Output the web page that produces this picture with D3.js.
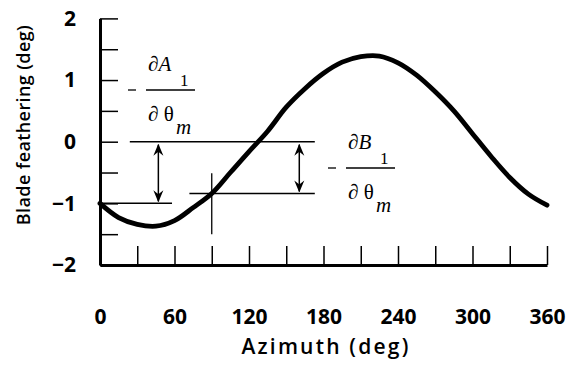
<!DOCTYPE html>
<html>
<head>
<meta charset="utf-8">
<script src="https://cdn.jsdelivr.net/npm/d3@7"></script>
<style>
  body { margin: 0; background: #fff; }
  svg { display: block; }
</style>
</head>
<body>
<div id="container"></div>
<script>
/* CONSTANTS AND GLOBALS */
const width = 570,
    height = 379;

// blade feathering curve (azimuth deg, feathering deg)
const azimuth = [0, 15, 30, 45, 60, 75, 90, 105, 120, 135, 150, 165, 180,
    195, 210, 225, 240, 255, 270, 285, 300, 315, 330, 345, 360];
const feathering = [-1.00, -1.23, -1.34, -1.37, -1.28, -1.07, -0.84, -0.50, -0.16, 0.17, 0.56, 0.86, 1.11,
    1.29, 1.38, 1.39, 1.28, 1.08, 0.81, 0.50, 0.13, -0.24, -0.58, -0.85, -1.03];

const xTicks = [0, 30, 60, 90, 120, 150, 180, 210, 240, 270, 300, 330, 360];
const xLabels = [0, 60, 120, 180, 240, 300, 360];
const yTicks = [-2, -1.5, -1, -0.5, 0, 0.5, 1, 1.5, 2];
const yLabels = [-2, -1, 0, 1, 2];

// construction lines on the plot (data units)
const hLines = [
    { y: 0, from: 24, to: 173 },
    { y: -1.0, from: 0, to: 58 },
    { y: -0.84, from: 72, to: 173 }
];
const vLine = { x: 90, from: -0.51, to: -1.5 };
const arrows = [
    { x: 47, from: 0, to: -1.0 },
    { x: 160.5, from: 0, to: -0.84 }
];

const svg = d3.select("#container")
    .append("svg")
    .attr("width", width)
    .attr("height", height)
    .style("background-color", "white");

// SCALES
const xScale = d3.scaleLinear().domain([0, 360]).range([100, 547]);
const yScale = d3.scaleLinear().domain([-2, 2]).range([265, 18.4]);

const sans = "'Open Sans', 'Noto Sans', sans-serif";
const serif = "'Liberation Serif', 'DejaVu Serif', serif";

// AXES (ticks point inward, labels on separate axes)
const xTickAxis = svg.append("g")
    .attr("transform", "translate(0," + yScale(-2) + ")")
    .call(d3.axisBottom(xScale).tickValues(xTicks).tickSizeInner(-19).tickSizeOuter(0).tickFormat(""));
xTickAxis.select(".domain").attr("stroke-width", 3);
xTickAxis.selectAll(".tick line").attr("stroke-width", 1.5);

const yTickAxis = svg.append("g")
    .attr("transform", "translate(" + xScale(0) + ",0)")
    .call(d3.axisLeft(yScale).tickValues(yTicks).tickSizeInner(-18).tickSizeOuter(0).tickFormat(""));
yTickAxis.select(".domain").attr("stroke-width", 3);
yTickAxis.selectAll(".tick line").attr("stroke-width", 1.5);

const xLabelAxis = svg.append("g")
    .attr("transform", "translate(0," + yScale(-2) + ")")
    .call(d3.axisBottom(xScale).tickValues(xLabels).tickSize(0).tickPadding(44));
xLabelAxis.select(".domain").remove();
xLabelAxis.selectAll("text")
    .style("font-family", sans)
    .style("font-size", "21px")
    .style("font-weight", "bold")
    .attr("fill", "black");

const yLabelAxis = svg.append("g")
    .attr("transform", "translate(" + xScale(0) + ",0)")
    .call(d3.axisLeft(yScale).tickValues(yLabels).tickSize(0).tickPadding(24)
        .tickFormat(d => d < 0 ? "\u2212" + Math.abs(d) : d));
yLabelAxis.select(".domain").remove();
yLabelAxis.selectAll("text")
    .style("font-family", sans)
    .style("font-size", "21px")
    .style("font-weight", "bold")
    .attr("fill", "black");

// AXIS TITLES
svg.append("text")
    .attr("x", 326)
    .attr("y", 354)
    .attr("text-anchor", "middle")
    .style("font-family", sans)
    .style("font-size", "21px")
    .style("font-weight", "600")
    .style("letter-spacing", "2.2px")
    .text("Azimuth (deg)");

svg.append("text")
    .attr("transform", "translate(30,125) rotate(-90)")
    .attr("text-anchor", "middle")
    .style("font-family", sans)
    .style("font-size", "18px")
    .style("font-weight", "600")
    .style("letter-spacing", "0.4px")
    .text("Blade feathering (deg)");

// CONSTRUCTION LINES
svg.selectAll(".hline")
    .data(hLines)
    .join("line")
    .attr("class", "hline")
    .attr("x1", d => xScale(d.from))
    .attr("x2", d => xScale(d.to))
    .attr("y1", d => yScale(d.y))
    .attr("y2", d => yScale(d.y))
    .attr("stroke", "black")
    .attr("stroke-width", 1.5);

svg.append("line")
    .attr("x1", xScale(vLine.x))
    .attr("x2", xScale(vLine.x))
    .attr("y1", yScale(vLine.from))
    .attr("y2", yScale(vLine.to))
    .attr("stroke", "black")
    .attr("stroke-width", 1.3);

// double headed arrows
const defs = svg.append("defs");
defs.append("marker")
    .attr("id", "head")
    .attr("viewBox", "0 0 12 12")
    .attr("refX", 11)
    .attr("refY", 6)
    .attr("markerWidth", 12)
    .attr("markerHeight", 12)
    .attr("markerUnits", "userSpaceOnUse")
    .attr("orient", "auto-start-reverse")
    .append("path")
    .attr("d", "M0,1 L12,6 L0,11 L4,6 Z")
    .attr("fill", "black");

svg.selectAll(".arrow")
    .data(arrows)
    .join("line")
    .attr("class", "arrow")
    .attr("x1", d => xScale(d.x))
    .attr("x2", d => xScale(d.x))
    .attr("y1", d => yScale(d.from) + 3)
    .attr("y2", d => yScale(d.to) - 2)
    .attr("stroke", "black")
    .attr("stroke-width", 1.5)
    .attr("marker-start", "url(#head)")
    .attr("marker-end", "url(#head)");

// CURVE
const points = azimuth.map((a, i) => [a, feathering[i]]);
const line = d3.line()
    .x(d => xScale(d[0]))
    .y(d => yScale(d[1]))
    .curve(d3.curveCatmullRom);

svg.append("path")
    .datum(points)
    .attr("d", line)
    .attr("fill", "none")
    .attr("stroke", "black")
    .attr("stroke-width", 4.8)
    .attr("stroke-linecap", "round");

// FRACTION LABELS
function fraction(x, barY, top, sub) {
    const g = svg.append("g").style("font-family", serif).style("font-size", "21px");
    g.append("line")
        .attr("x1", x - 10).attr("x2", x - 2)
        .attr("y1", barY).attr("y2", barY)
        .attr("stroke", "black").attr("stroke-width", 1.3);
    g.append("line")
        .attr("x1", x + 8).attr("x2", x + 57)
        .attr("y1", barY).attr("y2", barY)
        .attr("stroke", "black").attr("stroke-width", 1.3);
    const num = g.append("text").attr("x", x + 10).attr("y", barY - 19);
    num.append("tspan").text("\u2202");
    num.append("tspan").style("font-style", "italic").text(top);
    g.append("text").attr("x", x + 42).attr("y", barY - 4).style("font-size", "17px").text(sub);
    g.append("text").attr("x", x + 10).attr("y", barY + 31).text("\u2202 \u03b8");
    g.append("text").attr("x", x + 38).attr("y", barY + 44).style("font-style", "italic").text("m");
}
fraction(138, 90, "A", "1");
fraction(338, 168, "B", "1");
</script>
</body>
</html>
